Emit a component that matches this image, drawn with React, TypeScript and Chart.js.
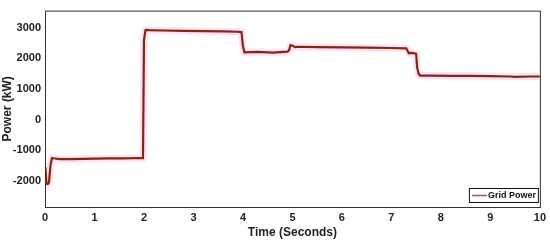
import React, { useEffect, useRef } from "react";
import { Chart, registerables } from "chart.js";

Chart.register(...registerables);

const times = [0, 0.01, 0.03, 0.06, 0.08, 0.11, 0.14, 0.17, 0.3, 0.5, 0.8, 1.0, 1.3, 1.6, 1.9, 1.98, 2.0, 2.03, 2.06, 2.1, 2.4, 2.8, 3.2, 3.6, 3.9, 3.97, 4.0, 4.03, 4.3, 4.6, 4.9, 4.93, 4.96, 5.0, 5.05, 5.1, 5.5, 6.0, 6.5, 7.0, 7.3, 7.35, 7.38, 7.45, 7.5, 7.52, 7.55, 7.58, 7.8, 8.2, 8.6, 9.0, 9.4, 9.5, 9.8, 10];
const gridPower = [-1550, -1600, -2100, -2100, -2050, -1500, -1250, -1260, -1290, -1290, -1280, -1270, -1265, -1260, -1250, -1255, 2600, 2920, 2930, 2920, 2910, 2900, 2890, 2880, 2870, 2860, 2400, 2200, 2210, 2190, 2220, 2260, 2430, 2420, 2370, 2380, 2370, 2360, 2350, 2340, 2330, 2170, 2180, 2170, 2150, 1700, 1500, 1440, 1440, 1430, 1430, 1420, 1410, 1400, 1410, 1410];
const xTicks = [0, 1, 2, 3, 4, 5, 6, 7, 8, 9, 10];
const yTicks = [-2000, -1000, 0, 1000, 2000, 3000];
const seriesLabel = "Grid Power";
const xTitle = "Time (Seconds)";
const yTitle = "Power (kW)";

const FONT = "'Liberation Sans', Arial, sans-serif";

export default function App() {
  const ref = useRef<HTMLCanvasElement | null>(null);
  useEffect(() => {
    document.body.style.margin = "0";
    const ctx = ref.current!;
    const framePlugin = {
      id: "frame",
      afterDraw(chart: any) {
        const { ctx, chartArea: a } = chart;
        ctx.save();
        ctx.strokeStyle = "#333";
        ctx.lineWidth = 1;
        ctx.strokeRect(a.left + 0.5, a.top + 0.5, a.right - a.left, a.bottom - a.top);
        // legend
        const w = 69, h = 14;
        const lx = a.right - 2 - w, ly = a.bottom - 5 - h;
        ctx.fillStyle = "#fff";
        ctx.fillRect(lx, ly, w, h);
        ctx.strokeStyle = "#111";
        ctx.strokeRect(lx + 0.5, ly + 0.5, w, h);
        ctx.strokeStyle = "#b5553a";
        ctx.lineWidth = 1.5;
        ctx.beginPath();
        ctx.moveTo(lx + 3, ly + h / 2 + 0.5);
        ctx.lineTo(lx + 18, ly + h / 2 + 0.5);
        ctx.stroke();
        ctx.fillStyle = "#111";
        ctx.font = `bold 9px ${FONT}`;
        ctx.textBaseline = "middle";
        ctx.fillText(chart.data.datasets[0].label, lx + 19, ly + h / 2 + 1);
        ctx.restore();
      },
    };
    const chart = new Chart(ctx, {
      type: "line",
      data: {
        datasets: [
          {
            label: seriesLabel,
            data: times.map((t, i) => ({ x: t, y: gridPower[i] })),
            borderColor: "#7e2a12",
            borderWidth: 2.2,
            pointRadius: 0,
            tension: 0,
            fill: false,
            order: 0,
          },
          {
            label: "glow",
            data: times.map((t, i) => ({ x: t, y: gridPower[i] })),
            borderColor: "rgba(255,200,240,0.6)",
            borderWidth: 7,
            pointRadius: 0,
            tension: 0,
            fill: false,
            order: 5,
          },
        ],
      },
      options: {
        animation: false,
        responsive: false,
        layout: { padding: { top: 7, right: 10, left: 0, bottom: 0 } },
        plugins: { legend: { display: false }, tooltip: { enabled: false } },
        scales: {
          x: {
            type: "linear",
            min: 0,
            max: 10,
            afterBuildTicks(s: any) {
              s.ticks = xTicks.map((v) => ({ value: v }));
            },
            afterFit(s: any) {
              s.height = 35;
            },
            grid: { display: false, drawTicks: false },
            border: { display: false },
            ticks: { color: "#222", font: { family: FONT, weight: "bold", size: 11 }, padding: 4, maxRotation: 0, callback: (v: any) => String(v) },
            title: { display: true, text: xTitle, color: "#222", font: { family: FONT, weight: "bold", size: 12 }, padding: { top: 0, bottom: 2 } },
          },
          y: {
            min: -2850,
            max: 3560,
            afterBuildTicks(s: any) {
              s.ticks = yTicks.map((v) => ({ value: v }));
            },
            afterFit(s: any) {
              s.width = 45;
            },
            grid: { display: false, drawTicks: false },
            border: { display: false },
            ticks: { color: "#222", font: { family: FONT, weight: "bold", size: 11 }, padding: 4, callback: (v: any) => String(v) },
            title: { display: true, text: yTitle, color: "#222", font: { family: FONT, weight: "bold", size: 12 }, padding: { top: 0, bottom: 2 } },
          },
        },
      },
      plugins: [framePlugin],
    } as any);
    return () => chart.destroy();
  }, []);
  return (
    <div style={{ width: 550, height: 242 }}>
      <canvas ref={ref} width={550} height={242} />
    </div>
  );
}
